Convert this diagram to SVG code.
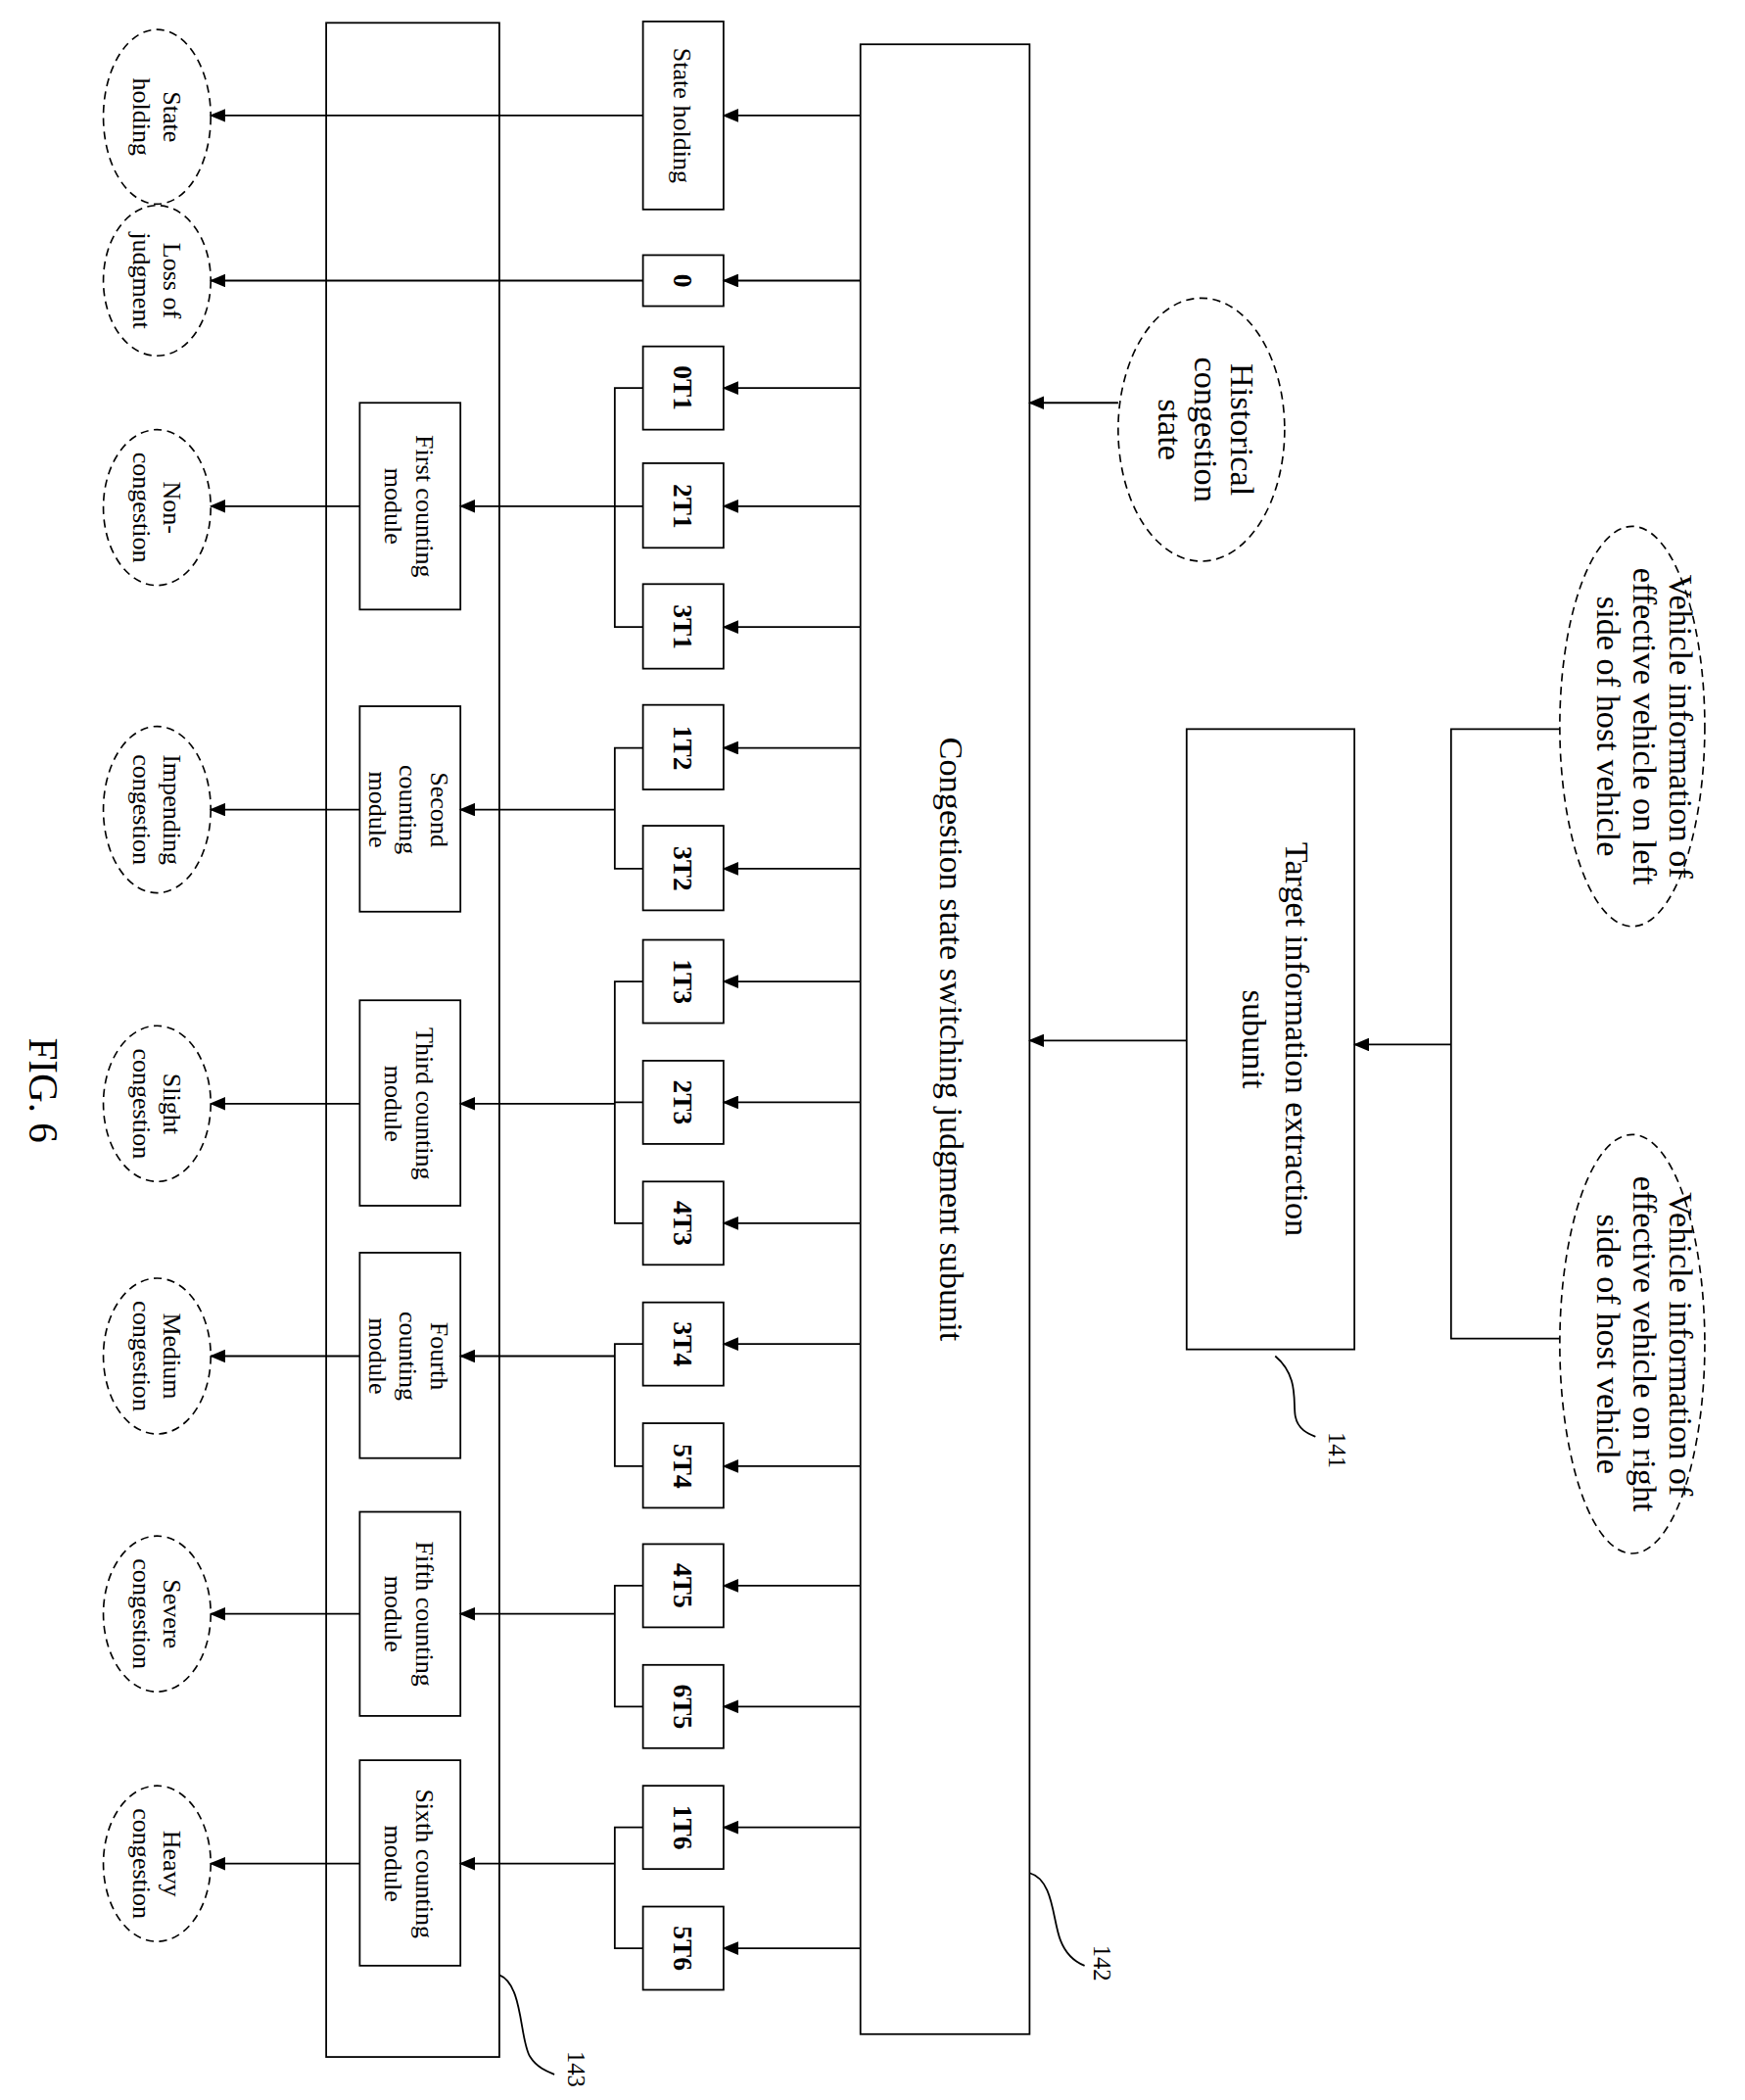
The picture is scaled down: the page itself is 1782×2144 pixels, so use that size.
<svg xmlns="http://www.w3.org/2000/svg" width="1782" height="2144" viewBox="0 0 1782 2144">
<style>
.b{fill:#fff;stroke:#000;stroke-width:1.3}
.d{fill:#fff;stroke:#000;stroke-width:1.2;stroke-dasharray:6 4}
.l{fill:none;stroke:#000;stroke-width:1.3}
text{font-family:"Liberation Serif",serif;fill:#000;text-anchor:middle}
.s{font-size:19px}
.k{font-size:20px;font-weight:bold}
.m{font-size:25px}
</style>
<defs><marker id="a" markerWidth="12" markerHeight="10" refX="11" refY="5" orient="auto" markerUnits="userSpaceOnUse"><path d="M0,0 L12,5 L0,10 Z" fill="#000"/></marker></defs>
<rect width="1782" height="2144" fill="#fff"/>
<g transform="scale(1.3708)">
<g id="n143"><rect class="b" x="243" y="17" width="129" height="1515"/></g>
<g id="n142"><rect class="b" x="641" y="33" width="126" height="1482"/><text class="m" transform="translate(700,774) rotate(90)" font-size="26">Congestion state switching judgment subunit</text></g>
<g id="n141"><rect class="b" x="884" y="543" width="125" height="462"/><text class="m" transform="translate(946,774) rotate(90)"><tspan x="0" y="-12">Target information extraction</tspan><tspan x="0" y="20">subunit</tspan></text></g>
<g id="hist"><ellipse class="d" cx="895" cy="320" rx="62" ry="98"/><text class="m" transform="translate(895,320) rotate(90)"><tspan x="0" y="-22">Historical</tspan><tspan x="0" y="5">congestion</tspan><tspan x="0" y="32">state</tspan></text></g>
<g id="vl"><ellipse class="d" cx="1216" cy="541" rx="54" ry="149"/><text class="m" transform="translate(1214,541) rotate(90)"><tspan x="0" y="-30">Vehicle information of</tspan><tspan x="0" y="-3">effective vehicle on left</tspan><tspan x="0" y="24">side of host vehicle</tspan></text></g>
<g id="vr"><ellipse class="d" cx="1216" cy="1001" rx="54" ry="156"/><text class="m" transform="translate(1214,1001) rotate(90)"><tspan x="0" y="-30">Vehicle information of</tspan><tspan x="0" y="-3">effective vehicle on right</tspan><tspan x="0" y="24">side of host vehicle</tspan></text></g>
<g id="sh"><rect class="b" x="479" y="16" width="60" height="140"/><text class="s" transform="translate(509,86) rotate(90)" y="7" font-size="20">State holding</text></g>
<g id="z"><rect class="b" x="479" y="190" width="60" height="38"/><text class="k" transform="translate(509,209) rotate(90)" y="7">0</text></g>
<g id="t0T1"><rect class="b" x="479" y="258" width="60" height="62"/><text class="k" transform="translate(509,289) rotate(90)" y="7">0T1</text></g>
<g id="t2T1"><rect class="b" x="479" y="345" width="60" height="63"/><text class="k" transform="translate(509,377) rotate(90)" y="7">2T1</text></g>
<g id="t3T1"><rect class="b" x="479" y="435" width="60" height="63"/><text class="k" transform="translate(509,467) rotate(90)" y="7">3T1</text></g>
<g id="t1T2"><rect class="b" x="479" y="525" width="60" height="63"/><text class="k" transform="translate(509,557) rotate(90)" y="7">1T2</text></g>
<g id="t3T2"><rect class="b" x="479" y="615" width="60" height="63"/><text class="k" transform="translate(509,647) rotate(90)" y="7">3T2</text></g>
<g id="t1T3"><rect class="b" x="479" y="700" width="60" height="62"/><text class="k" transform="translate(509,731) rotate(90)" y="7">1T3</text></g>
<g id="t2T3"><rect class="b" x="479" y="790" width="60" height="62"/><text class="k" transform="translate(509,821) rotate(90)" y="7">2T3</text></g>
<g id="t4T3"><rect class="b" x="479" y="880" width="60" height="62"/><text class="k" transform="translate(509,911) rotate(90)" y="7">4T3</text></g>
<g id="t3T4"><rect class="b" x="479" y="970" width="60" height="62"/><text class="k" transform="translate(509,1001) rotate(90)" y="7">3T4</text></g>
<g id="t5T4"><rect class="b" x="479" y="1060" width="60" height="63"/><text class="k" transform="translate(509,1092) rotate(90)" y="7">5T4</text></g>
<g id="t4T5"><rect class="b" x="479" y="1150" width="60" height="62"/><text class="k" transform="translate(509,1181) rotate(90)" y="7">4T5</text></g>
<g id="t6T5"><rect class="b" x="479" y="1240" width="60" height="62"/><text class="k" transform="translate(509,1271) rotate(90)" y="7">6T5</text></g>
<g id="t1T6"><rect class="b" x="479" y="1330" width="60" height="62"/><text class="k" transform="translate(509,1361) rotate(90)" y="7">1T6</text></g>
<g id="t5T6"><rect class="b" x="479" y="1420" width="60" height="62"/><text class="k" transform="translate(509,1451) rotate(90)" y="7">5T6</text></g>
<g id="c1"><rect class="b" x="268" y="300" width="75" height="154"/><text class="s" transform="translate(305,377) rotate(90)"><tspan x="0" y="-5">First counting</tspan><tspan x="0" y="18">module</tspan></text></g>
<g id="c2"><rect class="b" x="268" y="526" width="75" height="153"/><text class="s" transform="translate(305,603) rotate(90)"><tspan x="0" y="-16">Second</tspan><tspan x="0" y="7">counting</tspan><tspan x="0" y="30">module</tspan></text></g>
<g id="c3"><rect class="b" x="268" y="745" width="75" height="153"/><text class="s" transform="translate(305,822) rotate(90)"><tspan x="0" y="-5">Third counting</tspan><tspan x="0" y="18">module</tspan></text></g>
<g id="c4"><rect class="b" x="268" y="933" width="75" height="153"/><text class="s" transform="translate(305,1010) rotate(90)"><tspan x="0" y="-16">Fourth</tspan><tspan x="0" y="7">counting</tspan><tspan x="0" y="30">module</tspan></text></g>
<g id="c5"><rect class="b" x="268" y="1126" width="75" height="152"/><text class="s" transform="translate(305,1202) rotate(90)"><tspan x="0" y="-5">Fifth counting</tspan><tspan x="0" y="18">module</tspan></text></g>
<g id="c6"><rect class="b" x="268" y="1311" width="75" height="153"/><text class="s" transform="translate(305,1388) rotate(90)"><tspan x="0" y="-5">Sixth counting</tspan><tspan x="0" y="18">module</tspan></text></g>
<g id="e1"><ellipse class="d" cx="117" cy="87" rx="40" ry="65"/><text class="s" transform="translate(117,87) rotate(90)"><tspan x="0" y="-5">State</tspan><tspan x="0" y="18">holding</tspan></text></g>
<g id="e2"><ellipse class="d" cx="117" cy="209" rx="40" ry="56"/><text class="s" transform="translate(117,209) rotate(90)"><tspan x="0" y="-5">Loss of</tspan><tspan x="0" y="18">judgment</tspan></text></g>
<g id="e3"><ellipse class="d" cx="117" cy="378" rx="40" ry="58"/><text class="s" transform="translate(117,378) rotate(90)"><tspan x="0" y="-5">Non-</tspan><tspan x="0" y="18">congestion</tspan></text></g>
<g id="e4"><ellipse class="d" cx="117" cy="603" rx="40" ry="62"/><text class="s" transform="translate(117,603) rotate(90)"><tspan x="0" y="-5">Impending</tspan><tspan x="0" y="18">congestion</tspan></text></g>
<g id="e5"><ellipse class="d" cx="117" cy="822" rx="40" ry="58"/><text class="s" transform="translate(117,822) rotate(90)"><tspan x="0" y="-5">Slight</tspan><tspan x="0" y="18">congestion</tspan></text></g>
<g id="e6"><ellipse class="d" cx="117" cy="1010" rx="40" ry="58"/><text class="s" transform="translate(117,1010) rotate(90)"><tspan x="0" y="-5">Medium</tspan><tspan x="0" y="18">congestion</tspan></text></g>
<g id="e7"><ellipse class="d" cx="117" cy="1202" rx="40" ry="58"/><text class="s" transform="translate(117,1202) rotate(90)"><tspan x="0" y="-5">Severe</tspan><tspan x="0" y="18">congestion</tspan></text></g>
<g id="e8"><ellipse class="d" cx="117" cy="1388" rx="40" ry="58"/><text class="s" transform="translate(117,1388) rotate(90)"><tspan x="0" y="-5">Heavy</tspan><tspan x="0" y="18">congestion</tspan></text></g>
<g id="connectors" class="l" marker-end="url(#a)">
<path d="M641,86H539"/><path d="M641,209H539"/><path d="M641,289H539"/><path d="M641,377H539"/><path d="M641,467H539"/><path d="M641,557H539"/><path d="M641,647H539"/><path d="M641,731H539"/><path d="M641,821H539"/><path d="M641,911H539"/><path d="M641,1001H539"/><path d="M641,1092H539"/><path d="M641,1181H539"/><path d="M641,1271H539"/><path d="M641,1361H539"/><path d="M641,1451H539"/>
<path d="M479,86H157"/><path d="M479,209H157"/>
<path d="M268,377H157"/><path d="M268,603H157"/><path d="M268,822H157"/><path d="M268,1010H157"/><path d="M268,1202H157"/><path d="M268,1388H157"/>
<path d="M458,377H343"/><path d="M458,603H343"/><path d="M458,822H343"/><path d="M458,1010H343"/><path d="M458,1202H343"/><path d="M458,1388H343"/>
<path d="M833,300H767"/><path d="M884,775H767"/><path d="M1081,778H1009"/>
</g>
<g class="l">
<path d="M479,289H458V467H479M458,377H479"/>
<path d="M479,557H458V647H479"/>
<path d="M479,731H458V911H479M458,821H479"/>
<path d="M479,1001H458V1092H479"/>
<path d="M479,1181H458V1271H479"/>
<path d="M479,1361H458V1451H479"/>
<path d="M1162,543H1081V997H1162"/>
<path d="M767,1395C785,1400 784,1430 790,1445C795,1458 803,1462 808,1464"/>
<path d="M950,1010C968,1025 963,1045 965,1055C967,1065 975,1068 980,1070"/>
<path d="M372,1471C390,1478 387,1520 395,1532C400,1540 408,1543 413,1545"/>
</g>
<text transform="translate(815,1462) rotate(90)" font-size="18">142</text>
<text transform="translate(990,1080) rotate(90)" font-size="18">141</text>
<text transform="translate(423,1541) rotate(90)" font-size="18">143</text>
<text transform="translate(22,812) rotate(90)" font-size="30">FIG. 6</text>
</g>
</svg>
